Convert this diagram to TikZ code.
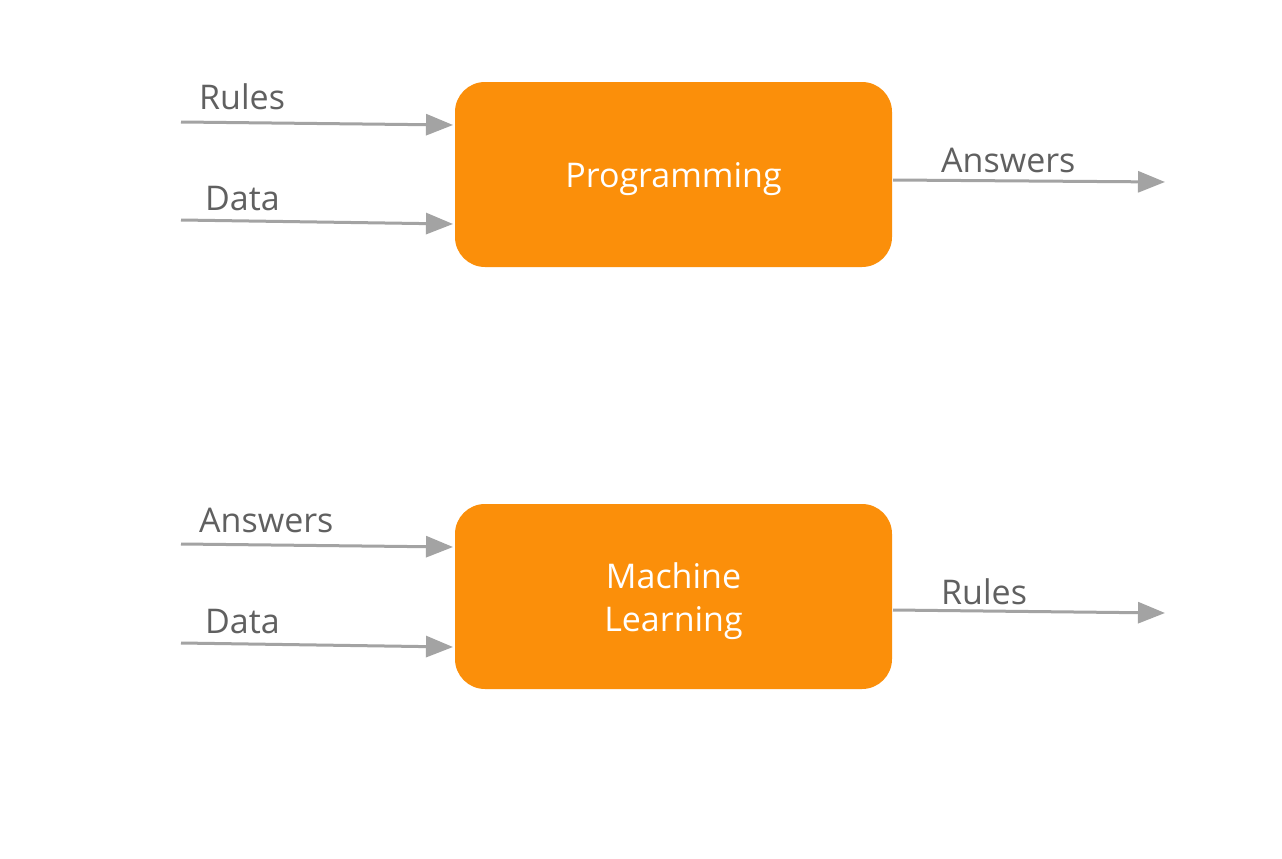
\documentclass[tikz,border=0pt]{standalone}
\usepackage{fontspec}
\setmainfont{Open Sans}
\usetikzlibrary{arrows.meta}
\definecolor{boxorange}{HTML}{FB8F0A}
\definecolor{arrgray}{HTML}{A3A3A3}
\definecolor{txtgray}{HTML}{606060}
\begin{document}
\begin{tikzpicture}[x=1pt,y=-1pt,
  procbox/.style={fill=boxorange,draw=none,rounded corners=30pt,minimum width=437pt,minimum height=185pt,inner sep=0pt},
  boxtxt/.style={text=white,font=\fontsize{34}{43}\selectfont,align=center,inner sep=0pt},
  flow/.style={draw=arrgray,line width=3pt,-{Triangle[length=27pt,width=21pt]}},
  lbl/.style={text=txtgray,font=\fontsize{34}{40}\selectfont,inner sep=0pt,anchor=base west}]
\useasboundingbox (0,0) rectangle (1282,859);
\fill[white] (0,0) rectangle (1282,859);
\node[procbox] (prog) at (673.5,174.5) {};
\node[procbox] (ml) at (673.5,596.5) {};
\node[boxtxt,yshift=-5pt] (progtxt) at (prog.center) {Programming};
\node[boxtxt,yshift=-5pt] (mltxt) at (ml.center) {Machine\\Learning};
\coordinate (r1) at (181,122);
\coordinate (d1) at (181,220);
\coordinate (a1e) at (1165,182);
\coordinate (a2) at (181,544);
\coordinate (d2) at (181,643);
\coordinate (r2e) at (1165,613);
\draw[flow] (r1) -- (453,125);
\draw[flow] (d1) -- (453,224);
\draw[flow] (893,180) -- (a1e);
\draw[flow] (a2) -- (453,547);
\draw[flow] (d2) -- (453,647);
\draw[flow] (893,610) -- (r2e);
\node[lbl] (lr1) at (199,109) {Rules};
\node[lbl] (ld1) at (205,210) {Data};
\node[lbl] (la1) at (941,172) {Answers};
\node[lbl] (la2) at (199,532) {Answers};
\node[lbl] (ld2) at (205,633) {Data};
\node[lbl] (lr2) at (941,604) {Rules};
\end{tikzpicture}
\end{document}
